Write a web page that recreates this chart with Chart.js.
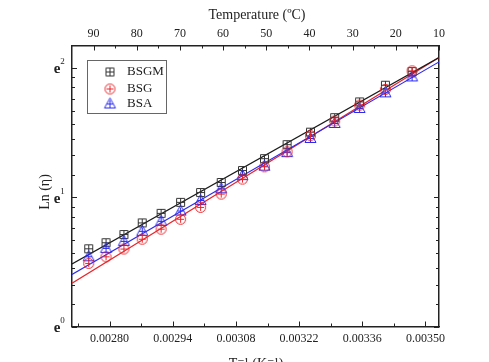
<!DOCTYPE html>
<html lang="en">
<head>
<meta charset="UTF-8">
<title>Ln(η) vs 1/T</title>
<script src="https://cdn.jsdelivr.net/npm/chart.js"></script>
<style>
    body { margin: 0; background: #fff; }
    #wrap { width: 489px; height: 362px; }
</style>
</head>
<body>
<div id="wrap"><canvas id="chart" width="489" height="362"></canvas></div>
<script>
// measured points, 90 -> 15 ºC
const tempC = [90, 85, 80, 75, 70, 65, 60, 55, 50, 45, 40, 35, 30, 25, 20, 15];
const invT = [0.0027537, 0.0027921, 0.0028317, 0.0028723, 0.0029142, 0.0029573, 0.0030017, 0.0030474,
              0.0030945, 0.0031432, 0.0031934, 0.0032452, 0.0032987, 0.0033540, 0.0034112, 0.0034704];
const lnBSGM = [0.601, 0.648, 0.711, 0.801, 0.875, 0.960, 1.036, 1.114, 1.206, 1.298, 1.406, 1.503, 1.615, 1.737, 1.866, 1.971];
const lnBSG  = [0.488, 0.539, 0.599, 0.675, 0.753, 0.829, 0.921, 1.024, 1.140, 1.235, 1.351, 1.476, 1.590, 1.712, 1.833, 1.977];
const lnBSA  = [0.539, 0.604, 0.658, 0.736, 0.813, 0.893, 0.974, 1.065, 1.167, 1.240, 1.345, 1.454, 1.570, 1.686, 1.807, 1.930];

// linear fits, end points at the plot edges
const fitX = [0.0027167, 0.0035300];
const fitBSGM = [0.483, 2.080];
const fitBSG  = [0.334, 2.080];
const fitBSA  = [0.403, 2.046];

// axes
const xTicks = [0.00280, 0.00294, 0.00308, 0.00322, 0.00336, 0.00350];
const xMinor = [0.00273, 0.00287, 0.00301, 0.00315, 0.00329, 0.00343];
const topTicks = [90, 80, 70, 60, 50, 40, 30, 20, 10];
const topMinor = [85, 75, 65, 55, 45, 35, 25, 15];
const yTicks = [0, 1, 2];
const yMinor = [0.175, 0.324, 0.453, 0.568, 0.670, 0.764, 0.849, 0.927,
                1.175, 1.323, 1.453, 1.567, 1.670, 1.763, 1.849, 1.927];

const SERIF = "'Liberation Serif', 'DejaVu Serif', serif";
const INK = '#222';
const RED = '#e8262b';
const BLUE = '#2b2bef';

function marker(shape, color) {
    const c = document.createElement('canvas');
    c.width = c.height = 15;
    const g = c.getContext('2d');
    g.strokeStyle = color;
    g.lineWidth = 1;
    g.beginPath();
    if (shape === 'square') g.rect(3.5, 3.5, 8, 8);
    if (shape === 'circle') g.arc(7.5, 7.5, 5, 0, Math.PI * 2);
    if (shape === 'triangle') { g.moveTo(7.5, 1.5); g.lineTo(13, 11.5); g.lineTo(2, 11.5); g.closePath(); }
    g.moveTo(7.5, 4); g.lineTo(7.5, 11);
    g.moveTo(4, 7.5); g.lineTo(11, 7.5);
    g.stroke();
    return c;
}

const mkBSGM = marker('square', '#333');
const mkBSG = marker('circle', RED);
const mkBSA = marker('triangle', BLUE);

function pts(xs, ys) {
    return xs.map((x, i) => ({ x: x, y: ys[i] }));
}

// inward ticks, y labels with superscripts, titles and legend box
const decor = {
    id: 'decor',
    afterDraw(chart) {
        const ctx = chart.ctx, a = chart.chartArea;
        const sx = chart.scales.x, st = chart.scales.x2, sy = chart.scales.y;
        ctx.save();
        ctx.strokeStyle = INK;
        ctx.lineWidth = 1;
        ctx.beginPath();
        const vt = (v, s, len) => {
            const p = Math.round(s.getPixelForValue(v)) + 0.5;
            if (s === st) { ctx.moveTo(p, a.top); ctx.lineTo(p, a.top + len); }
            else { ctx.moveTo(p, a.bottom); ctx.lineTo(p, a.bottom - len); }
        };
        xTicks.forEach(v => vt(v, sx, 5));
        xMinor.forEach(v => vt(v, sx, 3));
        topTicks.forEach(v => vt(v, st, 5));
        topMinor.forEach(v => vt(v, st, 3));
        const ht = (v, len) => {
            const p = Math.round(sy.getPixelForValue(v)) + 0.5;
            ctx.moveTo(a.left, p); ctx.lineTo(a.left + len, p);
            ctx.moveTo(a.right, p); ctx.lineTo(a.right - len, p);
        };
        yTicks.forEach(v => ht(v, 5));
        yMinor.forEach(v => ht(v, 3));
        ctx.stroke();

        ctx.fillStyle = INK;
        ctx.textBaseline = 'middle';
        yTicks.forEach(v => {
            const p = sy.getPixelForValue(v);
            ctx.font = 'bold 15px ' + SERIF;
            ctx.textAlign = 'center';
            ctx.fillText('e', 57, p + 1.5);
            ctx.font = '9px ' + SERIF;
            ctx.fillText(String(v), 62.5, p - 6);
        });

        ctx.font = '14px ' + SERIF;
        ctx.textAlign = 'center';
        ctx.fillText('Temperature (ºC)', 257, 15);
        ctx.fillText('T\u207B\u00B9 (K\u207B\u00B9)', 256, 364);
        ctx.save();
        ctx.translate(45, 192);
        ctx.rotate(-Math.PI / 2);
        ctx.fillText('Ln (η)', 0, 0);
        ctx.restore();

        // legend
        ctx.strokeStyle = '#666';
        ctx.strokeRect(87.5, 60.5, 79, 53);
        const items = [[mkBSGM, 'BSGM', 72], [mkBSG, 'BSG', 88.5], [mkBSA, 'BSA', 104]];
        ctx.font = '13px ' + SERIF;
        ctx.textAlign = 'left';
        items.forEach(it => {
            ctx.drawImage(it[0], 110 - 7.5, Math.round(it[2]) - 7.5);
            ctx.fillText(it[1], 127, it[2]);
        });
        ctx.restore();
    }
};

const tickFont = { family: SERIF, size: 12 };

new Chart(document.getElementById('chart'), {
    type: 'scatter',
    data: {
        datasets: [
            { label: 'BSG', data: pts(invT, lnBSG), pointStyle: mkBSG, pointRadius: 5 },
            { label: 'BSA', data: pts(invT, lnBSA), pointStyle: mkBSA, pointRadius: 5 },
            { label: 'BSGM', data: pts(invT, lnBSGM), pointStyle: mkBSGM, pointRadius: 5 },
            { label: 'fit BSGM', data: pts(fitX, fitBSGM), showLine: true, pointRadius: 0, borderColor: '#1a1a1a', borderWidth: 1.2 },
            { label: 'fit BSA', data: pts(fitX, fitBSA), showLine: true, pointRadius: 0, borderColor: BLUE, borderWidth: 1.2 },
            { label: 'fit BSG', data: pts(fitX, fitBSG), showLine: true, pointRadius: 0, borderColor: RED, borderWidth: 1.2 }
        ]
    },
    options: {
        responsive: false,
        animation: false,
        layout: { padding: 0 },
        plugins: { legend: { display: false }, tooltip: { enabled: false } },
        scales: {
            x: {
                type: 'linear', position: 'bottom', min: fitX[0], max: fitX[1],
                grid: { display: false, drawTicks: false },
                border: { color: INK, width: 1.5 },
                afterBuildTicks: s => { s.ticks = xTicks.map(v => ({ value: v })); },
                ticks: { font: tickFont, color: INK, padding: 5, maxRotation: 0, callback: v => Number(v).toFixed(5) },
                afterFit: s => { s.height = 35.5; }
            },
            x2: {
                type: 'linear', position: 'top', min: 10, max: 95, reverse: true,
                grid: { display: false, drawTicks: false },
                border: { color: INK, width: 1.5 },
                afterBuildTicks: s => { s.ticks = topTicks.map(v => ({ value: v })); },
                ticks: { font: tickFont, color: INK, padding: 4, maxRotation: 0 },
                afterFit: s => { s.height = 45.5; }
            },
            y: {
                type: 'linear', position: 'left', min: 0, max: 2.173,
                grid: { display: false, drawTicks: false },
                border: { color: INK, width: 1.5 },
                ticks: { display: false },
                afterFit: s => { s.width = 72; }
            },
            y2: {
                type: 'linear', position: 'right', min: 0, max: 2.173,
                grid: { display: false, drawTicks: false },
                border: { color: INK, width: 1.5 },
                ticks: { display: false },
                afterFit: s => { s.width = 50; }
            }
        }
    },
    plugins: [decor]
});
</script>
</body>
</html>
